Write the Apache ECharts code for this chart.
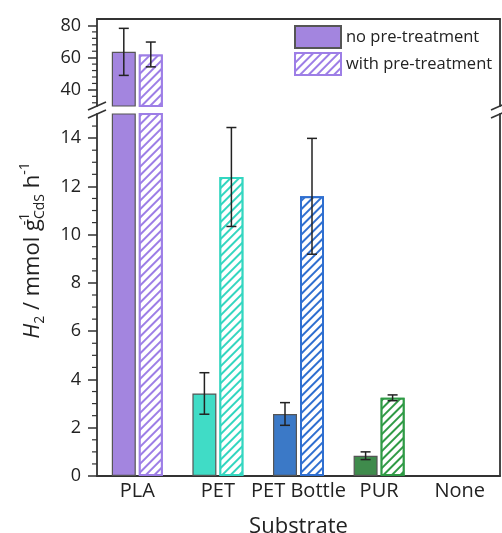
<!DOCTYPE html>
<html><head><meta charset="utf-8">
<script src="https://cdn.jsdelivr.net/npm/echarts@6/dist/echarts.min.js"></script>
<style>html,body{margin:0;padding:0;background:#fff}#c{width:502px;height:533px}</style>
</head><body><div id="c"></div>
<script>
// ---- data ----
const categories = ['PLA', 'PET', 'PET Bottle', 'PUR', 'None'];
const seriesNames = ['no pre-treatment', 'with pre-treatment'];
const noPre = [63.6, 3.42, 2.57, 0.84, 0];
const noPreErr = [14.6, 0.86, 0.47, 0.16, 0];
const withPre = [62.0, 12.39, 11.59, 3.24, 0];
const withPreErr = [7.7, 2.05, 2.4, 0.12, 0];
const upperTicks = [40, 60, 80];
const lowerTicks = [0, 2, 4, 6, 8, 10, 12, 14];
const upperRange = [30, 84];
const lowerRange = [0, 15];

// ---- style ----
const solidColors = ['#a385df', '#40dcc6', '#3b79c7', '#3f8b4c', '#999'];
const hatchColors = ['#9d7ee6', '#33d6c0', '#2f6fd0', '#2f9a45', '#999'];
const FONT = 'Open Sans';
const AX = '#333';
const BW = 24, GAP = 3, OFF = (BW + GAP) / 2, CAP = 5, MINOR_LEN = 5;
const G_UP = {left: 97, right: 2, top: 19, height: 87, outerBoundsMode: 'none', containLabel: false};
const G_LO = {left: 97, right: 2, top: 114, bottom: 57, outerBoundsMode: 'none', containLabel: false};

function minorVals(start, end, step, majors) {
  const out = [];
  for (let v = start + step; v < end - 1e-9; v += step) {
    const r = Math.round(v * 100) / 100;
    if (!majors.includes(r)) out.push(r);
  }
  return out;
}
const upperMinor = minorVals(28, upperRange[1], 4, upperTicks).filter(v => v > upperRange[0]);
const lowerMinor = minorVals(lowerRange[0], lowerRange[1], 0.5, lowerTicks);

function hatchDecal(c) {
  return {symbol: 'rect', symbolSize: 1, dashArrayX: [1, 0], dashArrayY: [1.6, 3.8],
          rotation: -Math.PI / 4, color: c, backgroundColor: '#fff'};
}
function solidStyle(i) { return {color: solidColors[i], borderColor: '#555', borderWidth: 1.2}; }
function hatchStyle(i) { return {color: '#fff', borderColor: hatchColors[i], borderWidth: 2, decal: hatchDecal(hatchColors[i])}; }

function barData(vals, kind, range) {
  return vals.map((v, i) => (v <= 0 || v < range[0]) ? '-' :
    {value: v, itemStyle: kind === 0 ? solidStyle(i) : hatchStyle(i)});
}
function errData(vals, errs, range) {
  const out = [];
  vals.forEach((v, i) => { if (v > 0 && v >= range[0] && v <= range[1]) out.push([i, v, errs[i]]); });
  return out;
}
function errRender(offset) {
  return function (params, api) {
    const i = api.value(0), v = api.value(1), e = api.value(2);
    const t = api.coord([i, v + e]), b = api.coord([i, v - e]);
    const x = t[0] + offset;
    const st = {stroke: '#222', lineWidth: 1.5};
    return {type: 'group', children: [
      {type: 'line', shape: {x1: x, y1: t[1], x2: x, y2: b[1]}, style: st},
      {type: 'line', shape: {x1: x - CAP, y1: t[1], x2: x + CAP, y2: t[1]}, style: st},
      {type: 'line', shape: {x1: x - CAP, y1: b[1], x2: x + CAP, y2: b[1]}, style: st}
    ]};
  };
}

function yAxesFor(grid, range, majors) {
  return [
    {gridIndex: grid, type: 'value', min: range[0], max: range[1], position: 'left',
     axisLine: {show: true, lineStyle: {color: AX, width: 1.8}},
     axisTick: {show: true, length: 9, customValues: majors, lineStyle: {color: AX, width: 1.5}},
     axisLabel: {show: true, customValues: majors, fontFamily: FONT, fontSize: 18, color: '#222', margin: 16},
     splitLine: {show: false}},
    {gridIndex: grid, type: 'value', min: range[0], max: range[1], position: 'right',
     axisLine: {show: true, lineStyle: {color: AX, width: 1.8}},
     axisTick: {show: false}, axisLabel: {show: false}, splitLine: {show: false}}
  ];
}

const series = [];
[[0, upperRange], [1, lowerRange]].forEach(([g, range]) => {
  const yIdx = g * 2;
  const xIdx = g === 0 ? 0 : 2;
  series.push({type: 'bar', name: seriesNames[0], xAxisIndex: xIdx, yAxisIndex: yIdx,
    barWidth: BW, barGap: (GAP / BW * 100) + '%', clip: true,
    itemStyle: {color: solidColors[0], borderColor: '#555', borderWidth: 1.2},
    data: barData(noPre, 0, range)});
  series.push({type: 'bar', name: seriesNames[1], xAxisIndex: xIdx, yAxisIndex: yIdx,
    barWidth: BW, barGap: (GAP / BW * 100) + '%', clip: true,
    itemStyle: {color: '#fff', borderColor: hatchColors[0], borderWidth: 2, decal: hatchDecal(hatchColors[0])},
    data: barData(withPre, 1, range)});
  series.push({type: 'custom', xAxisIndex: xIdx, yAxisIndex: yIdx, clip: true, z: 5,
    renderItem: errRender(-OFF), encode: {x: 0, y: 1}, data: errData(noPre, noPreErr, range)});
  series.push({type: 'custom', xAxisIndex: xIdx, yAxisIndex: yIdx, clip: true, z: 5,
    renderItem: errRender(OFF), encode: {x: 0, y: 1}, data: errData(withPre, withPreErr, range)});
});

// break marks and y-axis title, positioned from the grid layout
const xL = G_LO.left, xR = 502 - G_LO.right;
const yUpBot = G_UP.top + G_UP.height, yLoTop = G_LO.top;
function brk(x, y) {
  return {type: 'line', shape: {x1: x - 9, y1: y + 4, x2: x + 9, y2: y - 4},
          style: {stroke: AX, lineWidth: 1.6}, z: 10};
}
const midY = (G_UP.top + 533 - G_LO.bottom) / 2;

const chart = echarts.init(document.getElementById('c'));
chart.setOption({
  animation: false,
  backgroundColor: '#fff',
  textStyle: {fontFamily: FONT},
  legend: {data: seriesNames, orient: 'vertical', left: 294, top: 25, padding: 0, itemWidth: 46, itemHeight: 22,
    itemGap: 3, icon: 'rect', textStyle: {fontFamily: FONT, fontSize: 16.5, color: '#222'}},
  grid: [Object.assign({}, G_UP), Object.assign({}, G_LO)],
  xAxis: [
    {gridIndex: 0, type: 'category', data: categories, position: 'bottom', show: false},
    {gridIndex: 0, type: 'category', data: categories, position: 'top',
     axisLine: {show: true, lineStyle: {color: AX, width: 1.8}}, axisTick: {show: false}, axisLabel: {show: false}},
    {gridIndex: 1, type: 'category', data: categories, position: 'bottom',
     axisLine: {show: true, lineStyle: {color: AX, width: 1.8}}, axisTick: {show: false},
     axisLabel: {fontFamily: FONT, fontSize: 20, color: '#222', margin: 5, interval: 0},
     name: 'Substrate', nameLocation: 'middle', nameGap: 40,
     nameTextStyle: {fontFamily: FONT, fontSize: 22, color: '#222'}}
  ],
  yAxis: [].concat(yAxesFor(0, upperRange, upperTicks), yAxesFor(1, lowerRange, lowerTicks)),
  series: series
});

// minor ticks: positioned through the axes' own value scales
const graphics = [];
[[0, upperMinor], [2, lowerMinor]].forEach(([axisIdx, minors]) => {
  minors.forEach(v => {
    const y = chart.convertToPixel({yAxisIndex: axisIdx}, v);
    graphics.push({type: 'line', shape: {x1: xL - MINOR_LEN, y1: y, x2: xL, y2: y},
                   style: {stroke: AX, lineWidth: 1.2}, z: 10});
  });
});
graphics.push(brk(xL, yUpBot), brk(xL, yLoTop), brk(xR, yUpBot), brk(xR, yLoTop));
graphics.push({type: 'text', x: 33, y: midY + 3, rotation: Math.PI / 2, z: 10,
  style: {text: '{it|H}{sub|2}{n| / mmol g}{supz|-1}{sub|CdS}{n| h}{sup|-1}',
    align: 'center', verticalAlign: 'middle', fill: '#222',
    rich: {
      it: {fontFamily: FONT, fontSize: 22, fontStyle: 'italic', lineHeight: 34, verticalAlign: 'middle'},
      n: {fontFamily: FONT, fontSize: 22, lineHeight: 34, verticalAlign: 'middle'},
      sub: {fontFamily: FONT, fontSize: 14, lineHeight: 34, verticalAlign: 'bottom', padding: [0, 0, 3, 0]},
      sup: {fontFamily: FONT, fontSize: 14, lineHeight: 34, verticalAlign: 'top', padding: [2, 0, 0, 0]},
      supz: {fontFamily: FONT, fontSize: 14, lineHeight: 34, verticalAlign: 'top', padding: [2, 0, 0, 0], width: 0}
    }}});
chart.setOption({graphic: graphics});
</script></body></html>
